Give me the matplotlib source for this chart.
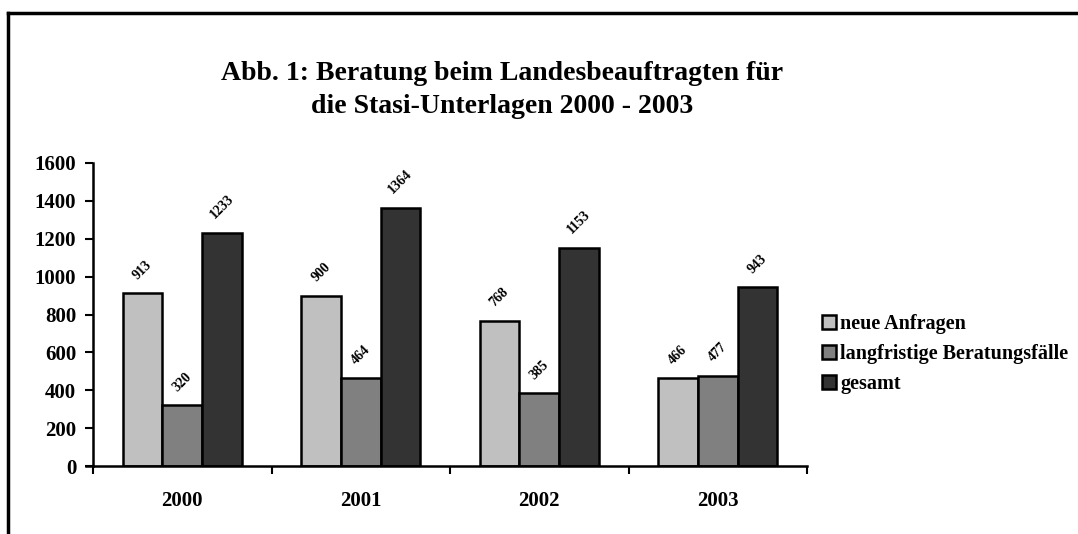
import matplotlib.pyplot as plt
import numpy as np

plt.rcParams['font.family'] = ['Liberation Serif', 'DejaVu Serif']
plt.rcParams['font.weight'] = 'bold'

years = ['2000', '2001', '2002', '2003']
neue = [913, 900, 768, 466]
langfristig = [320, 464, 385, 477]
gesamt = [1233, 1364, 1153, 943]
series_names = ['neue Anfragen', 'langfristige Beratungsfälle', 'gesamt']
colors = ['#c0c0c0', '#808080', '#333333']

fig = plt.figure(figsize=(10.78, 5.34), dpi=100)
# outer frame (cut off at right and bottom)
fig.add_artist(plt.Line2D([8 / 1078, 8 / 1078], [0, 1 - 13 / 534], color='black', lw=2.5,
                          transform=fig.transFigure))
fig.add_artist(plt.Line2D([8 / 1078, 1], [1 - 13 / 534, 1 - 13 / 534], color='black', lw=2.5,
                          transform=fig.transFigure))

ax = fig.add_axes([93 / 1078, 1 - 466 / 534, (807 - 93) / 1078, (466 - 163) / 534])

x = np.arange(len(years))
width = 0.223
for i, (vals, name) in enumerate(zip([neue, langfristig, gesamt], series_names)):
    rects = ax.bar(x + (i - 1) * width, vals, width, color=colors[i], edgecolor='black',
                   linewidth=1.8, label=name)
    for r, v in zip(rects, vals):
        ax.annotate(str(v), (r.get_x() + r.get_width() / 2, v), xytext=(0, 8),
                    textcoords='offset points', ha='center', va='bottom',
                    rotation=45, fontsize=10, fontweight='bold')

ax.set_xlim(-0.5, len(years) - 0.5)
ax.set_ylim(0, 1600)
ax.set_yticks(range(0, 1601, 200))
ax.tick_params(axis='y', direction='out', length=6, width=1.5, labelsize=15, pad=6)
ax.set_xticks(x)
ax.set_xticklabels(years)
ax.tick_params(axis='x', length=0, labelsize=15, pad=18)
ax.set_xticks(np.arange(-0.5, len(years)), minor=True)
ax.tick_params(axis='x', which='minor', direction='out', length=6, width=1.5)
for s in ['top', 'right']:
    ax.spines[s].set_visible(False)
ax.spines['left'].set_linewidth(1.8)
ax.spines['bottom'].set_linewidth(1.8)
# extend x axis a bit left of y axis
ax.plot([-0.54, -0.5], [0, 0], color='black', lw=1.8, clip_on=False)

fig.text(0.466, 1 - 90 / 534, 'Abb. 1: Beratung beim Landesbeauftragten für\ndie Stasi-Unterlagen 2000 - 2003',
         ha='center', va='center', fontsize=20, fontweight='bold', linespacing=1.4)

leg = ax.legend(loc='center left', bbox_to_anchor=(1.01, 0.37), frameon=False,
                prop={'size': 14.5, 'weight': 'bold'}, handlelength=0.7, handleheight=0.7,
                handletextpad=0.2, labelspacing=0.5, borderaxespad=0)

fig.savefig('out.png', dpi=100)
